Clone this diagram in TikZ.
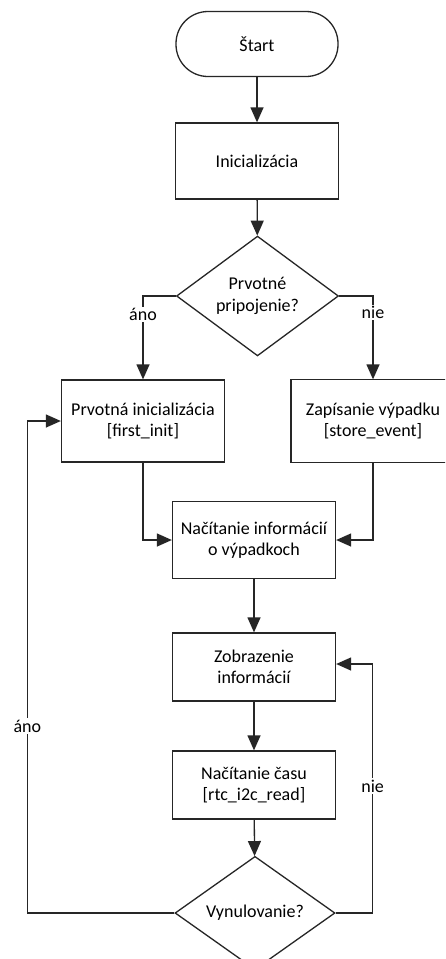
\documentclass[tikz,border=0pt]{standalone}
\usepackage{fontspec}
\setmainfont{Carlito}
\usetikzlibrary{
    calc,positioning,arrows.meta,shapes.geometric
}
\tikzset{
    box/.style={draw=black!85, line width=1.3pt, rectangle, minimum width=163pt,
        align=center, inner sep=2pt, font=\fontsize{18}{21.5}\selectfont},
    term/.style={box, rounded corners=32pt, minimum width=162pt, minimum height=65pt},
    decision/.style={draw=black!85, line width=1.3pt, diamond, inner sep=0pt,
        minimum width=162pt, minimum height=97pt, align=center,
        font=\fontsize{18}{21.5}\selectfont},
    flow/.style={draw=black!85, line width=1.3pt, -{Triangle[length=15pt,width=13pt]}},
    lbl/.style={fill=white, inner sep=1.5pt, font=\fontsize{18}{21.5}\selectfont}
}
\begin{document}
\begin{tikzpicture}[x=1pt, y=-1pt]
                    \useasboundingbox[fill=white] (0, 0) rectangle (445, 959);
                    \clip (0, 0) rectangle (445, 959);
                    % Nodes
                    \node[term] (start) at (257, 44) {Štart};
                    \node[box, minimum height=76pt] (init) at (257, 161) {Inicializácia};
                    \node[decision] (first) at (257.5, 296) {Prvotné\\pripojenie?};
                    \node[box, minimum height=82pt] (firstinit) at (143, 421) {Prvotná inicializácia\\{[}first\_init{]}};
                    \node[box, draw=none, minimum height=82pt] (store) at (373, 421) {Zapísanie výpadku\\{[}store\_event{]}};
                    \node[box, minimum height=77pt] (load) at (254, 540) {Načítanie informácií\\o výpadkoch};
                    \node[box, minimum height=68pt] (show) at (254, 667) {Zobrazenie\\informácií};
                    \node[box, minimum height=68pt] (time) at (254, 785) {Načítanie času\\{[}rtc\_i2c\_read{]}};
                    \node[decision, minimum width=160pt, minimum height=96pt] (reset) at (255, 913) {Vynulovanie?};
                    % Box cut by the right edge
                    \draw[draw=black!85, line width=1.3pt] (store.north east) -- (store.north west) -- (store.south west) -- (store.south east);
                    % Connectors
                    \draw[flow] (start) -- (init);
                    \draw[flow] (init) -- (first);
                    \draw[flow] (first.west) -| node[lbl, pos=0.61] {áno} (firstinit.north);
                    \draw[flow] (first.east) -| node[lbl, pos=0.6] {nie} (store.north);
                    \draw[flow] (firstinit.south) |- (load.west);
                    \draw[flow] (store.south) |- (load.east);
                    \draw[flow] (load) -- (show);
                    \draw[flow] (show) -- (time);
                    \draw[flow] (time) -- (reset);
                    % Loops
                    \draw[flow] (reset.east) -- ++(37, 0) |- node[lbl, pos=0.255] {nie} ($(show.east)+(0, -3)$);
                    \draw[flow] (reset.west) -- ++(-147, 0) |- node[lbl, pos=0.19] {áno} (firstinit.west);
                \end{tikzpicture}
\end{document}
